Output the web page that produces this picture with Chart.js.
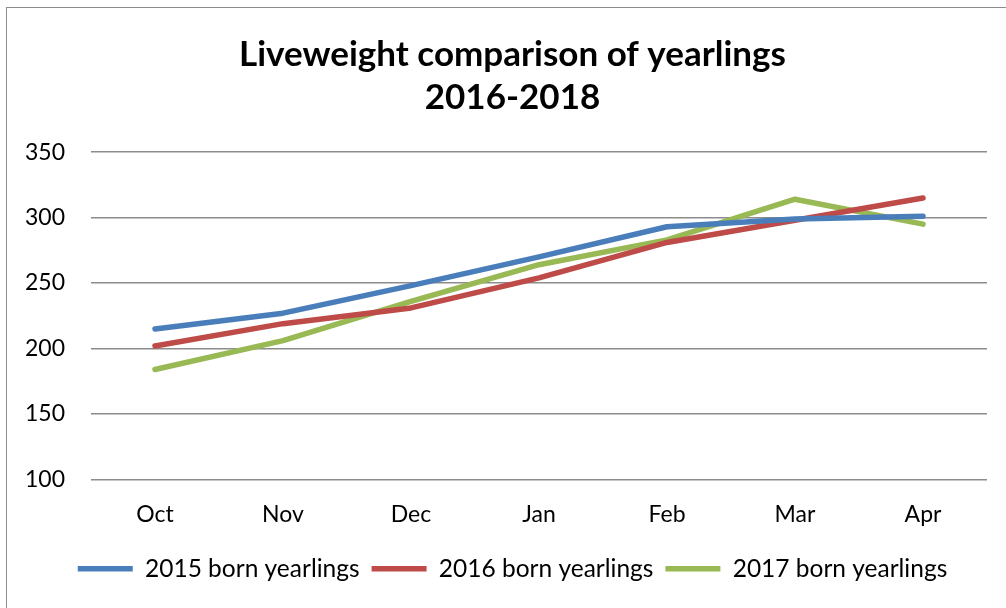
<!DOCTYPE html>
<html>
<head>
<meta charset="utf-8">
<script src="https://cdn.jsdelivr.net/npm/chart.js@4/dist/chart.umd.min.js"></script>
<style>
  html, body { margin: 0; padding: 0; background: #fff; }
  #wrap { position: relative; width: 1006px; height: 608px; overflow: hidden; }
  #frame { position: absolute; left: 6px; top: 7px; width: 1010px; height: 620px; border: 1px solid #8c8c8c; box-sizing: border-box; }
  #chart-box { position: absolute; left: 0; top: 0; width: 1006px; height: 608px; }
</style>
</head>
<body>
<div id="wrap">
  <div id="frame"></div>
  <div id="chart-box"><canvas id="myChart"></canvas></div>
</div>
<script>
const months = ['Oct', 'Nov', 'Dec', 'Jan', 'Feb', 'Mar', 'Apr'];
const born2015 = [215, 227, 248, 270, 293, 299, 301];
const born2016 = [202, 219, 231, 254, 281, 298, 315];
const born2017 = [184, 206, 236, 264, 283, 314, 295];
const seriesNames = ['2015 born yearlings', '2016 born yearlings', '2017 born yearlings'];
const yTicks = [100, 150, 200, 250, 300, 350];

const fontName = 'Lato';
const colors = ['#4a7ebb', '#be4b48', '#98b954'];

function line(label, values, color) {
  return {
    label: label,
    data: values,
    borderColor: color,
    backgroundColor: color,
    borderWidth: 5.5,
    pointRadius: 0,
    tension: 0,
    borderCapStyle: 'round',
    borderJoinStyle: 'round'
  };
}

// title and legend sit a bit right of the canvas centre in the original
const shiftBoxes = {
  id: 'shiftBoxes',
  afterLayout(chart) {
    [chart.titleBlock, chart.legend].forEach(b => {
      if (b) { b.left += 19; b.right += 19; }
    });
  }
};

const ctx = document.getElementById('myChart').getContext('2d');
new Chart(ctx, {
  type: 'line',
  data: {
    labels: months,
    datasets: [
      line(seriesNames[0], born2015, colors[0]),
      line(seriesNames[1], born2016, colors[1]),
      line(seriesNames[2], born2017, colors[2])
    ]
  },
  plugins: [shiftBoxes],
  options: {
    responsive: true,
    maintainAspectRatio: false,
    animation: false,
    layout: { padding: { left: 0, right: 19, top: 0, bottom: 17 } },
    scales: {
      x: {
        offset: true,
        grid: { display: false, drawTicks: false },
        border: { display: false },
        ticks: { color: '#000', padding: 21, font: { family: fontName, size: 23 } },
        afterFit: (s) => { s.height = 65; }
      },
      y: {
        min: 100,
        max: 350,
        afterBuildTicks: (s) => { s.ticks = yTicks.map(v => ({ value: v })); },
        grid: { color: '#8c8c8c', lineWidth: 1.5, drawTicks: false },
        border: { display: false },
        ticks: { color: '#000', padding: 26, font: { family: fontName, size: 23 } },
        afterFit: (s) => { s.width = 91; }
      }
    },
    plugins: {
      title: {
        display: true,
        text: ['Liveweight comparison of yearlings', '2016-2018'],
        color: '#000',
        font: { family: fontName, size: 35, weight: 'bold', lineHeight: 1.23 },
        padding: { top: 33, bottom: 33 }
      },
      legend: {
        position: 'bottom',
        labels: {
          color: '#000',
          usePointStyle: true,
          pointStyle: 'line',
          pointStyleWidth: 55,
          boxHeight: 20,
          padding: 12,
          font: { family: fontName, size: 24.5 }
        }
      },
      tooltip: { enabled: false }
    }
  }
});
</script>
</body>
</html>
